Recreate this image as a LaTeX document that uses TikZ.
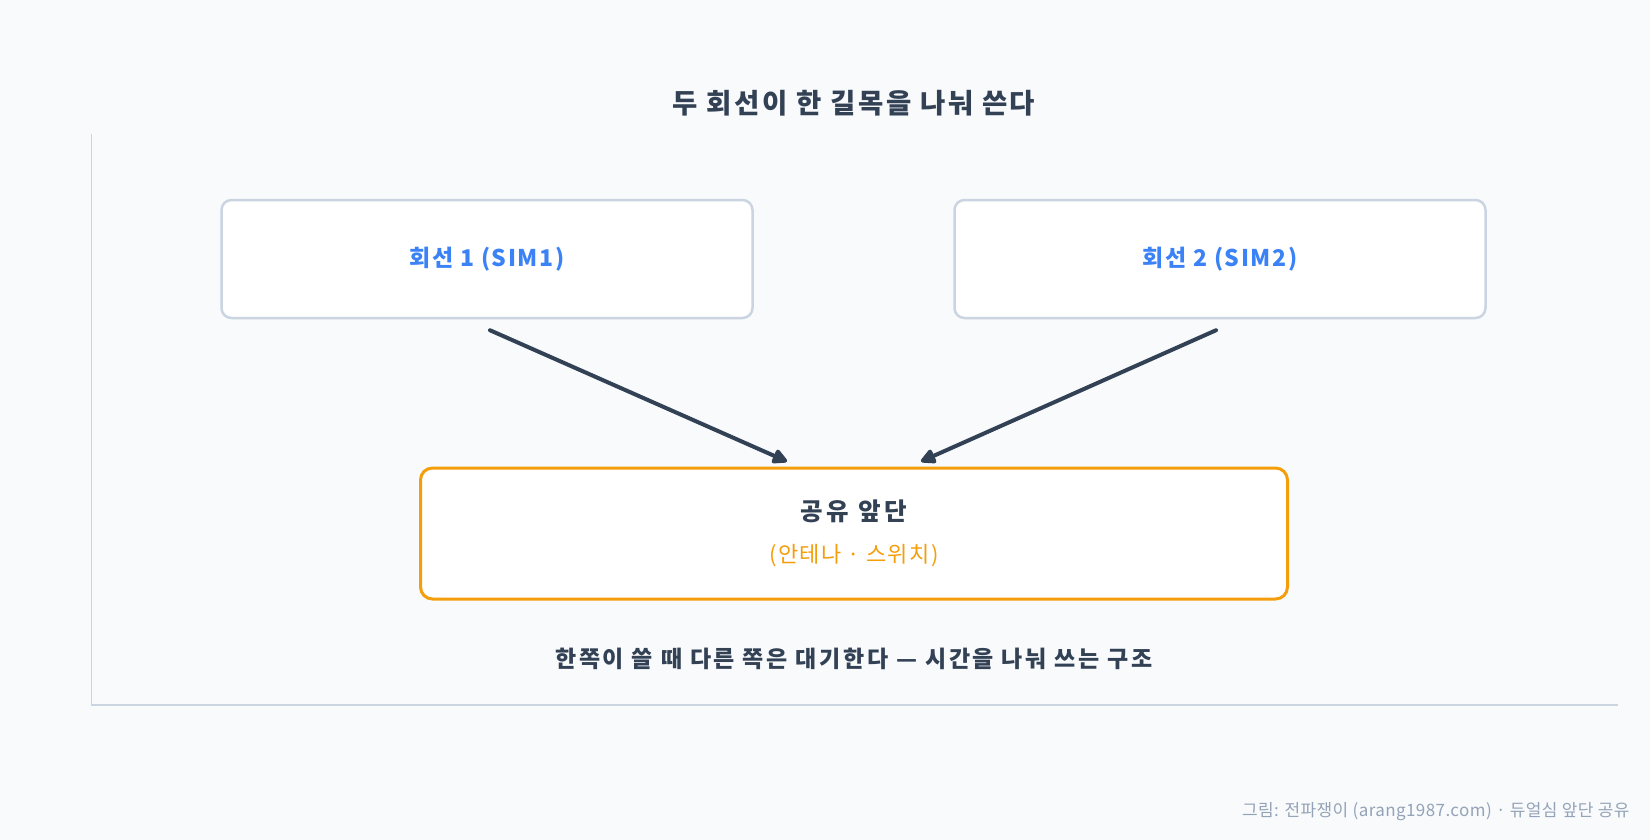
\documentclass[tikz,border=0pt]{standalone}
\usepackage{fontspec}
\setmainfont{Noto Sans CJK KR}
\usetikzlibrary{arrows.meta,positioning}

\definecolor{bgcol}{HTML}{F8FAFC}
\definecolor{inkcol}{HTML}{334155}
\definecolor{framecol}{HTML}{CBD5E1}
\definecolor{bluecol}{HTML}{3B82F6}
\definecolor{orangecol}{HTML}{F59E0B}
\definecolor{footcol}{HTML}{94A3B8}

\tikzset{
  simbox/.style={draw=framecol, line width=2.5pt, fill=white, rounded corners=10pt,
    minimum width=531pt, minimum height=118pt,
    font=\fontsize{23}{27}\selectfont\bfseries\addfontfeatures{LetterSpace=7}, text=bluecol},
  frontbox/.style={draw=orangecol, line width=3pt, fill=white, rounded corners=12pt,
    minimum width=867pt, minimum height=131pt},
  feed/.style={draw=inkcol, line width=4pt, line cap=round, -{Triangle[length=17pt,width=16pt,round]}}
}

\begin{document}
\begin{tikzpicture}[x=1pt,y=-1pt]
  \fill[bgcol] (0,0) rectangle (1650,840);
  \useasboundingbox (0,0) rectangle (1650,840);

  % title
  \node[text=inkcol, font=\fontsize{27.5}{32}\selectfont\bfseries\addfontfeatures{LetterSpace=9}] (title) at (854,103) {두 회선이 한 길목을 나눠 쓴다};

  % axes
  \coordinate (top) at (91.5,134);
  \coordinate (corner) at (91.5,705);
  \coordinate (right) at (1618,705);
  \draw[framecol, line width=1.8pt] (top) -- (corner) -- (right);

  % two lines and the shared front end
  \node[simbox] (sim1) at (487,259) {회선 1 (SIM1)};
  \node[simbox] (sim2) at (1220,259) {회선 2 (SIM2)};
  \node[frontbox] (front) at (854,533.5) {};
  \node[text=inkcol, font=\fontsize{24.5}{29}\selectfont\bfseries\addfontfeatures{LetterSpace=14}] (fronttitle) at (854,511) {공유 앞단};
  \node[text=orangecol, font=\fontsize{22}{26}\selectfont\addfontfeatures{LetterSpace=6}, below=15pt of fronttitle.south, anchor=north] (frontsub) {(안테나 · 스위치)};

  \draw[feed] ([xshift=3pt,yshift=-11pt]sim1.south) -- ([xshift=-67pt,yshift=5pt]front.north);
  \draw[feed] ([xshift=-4pt,yshift=-11pt]sim2.south) -- ([xshift=67pt,yshift=5pt]front.north);

  % caption and credit
  \node[text=inkcol, font=\fontsize{23}{27}\selectfont\bfseries\addfontfeatures{LetterSpace=11.5}] (caption) at (854,659) {한쪽이 쓸 때 다른 쪽은 대기한다 — 시간을 나눠 쓰는 구조};
  \node[text=footcol, font=\fontsize{17}{20}\selectfont\addfontfeatures{LetterSpace=2.5}, anchor=east] (credit) at (1633,812) {그림: 전파쟁이 (arang1987.com) · 듀얼심 앞단 공유};
\end{tikzpicture}
\end{document}
